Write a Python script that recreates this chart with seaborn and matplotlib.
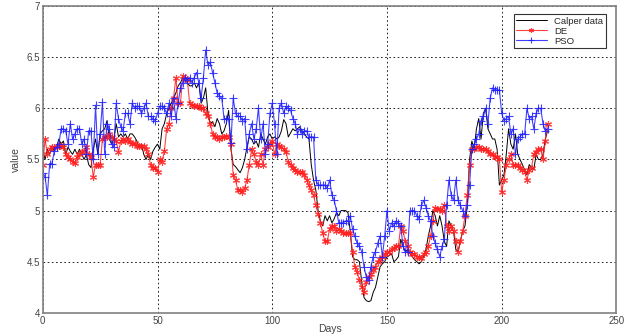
import numpy as np, pandas as pd
import seaborn as sns, matplotlib.pyplot as plt
from matplotlib.ticker import FuncFormatter

days = list(range(221))

calper = [
    5.60, 5.50, 5.60, 5.55, 5.62, 5.58, 5.62, 5.70, 5.65, 5.68,
    5.55, 5.62, 5.58, 5.55, 5.60, 5.55, 5.60, 5.55, 5.50, 5.55,
    5.45, 5.42, 5.60, 5.70, 5.55, 5.75, 5.78, 5.80, 5.88, 5.70,
    5.65, 5.70, 5.85, 5.72, 5.75, 5.72, 5.75, 5.70, 5.75, 5.75,
    5.72, 5.68, 5.62, 5.65, 5.55, 5.50, 5.55, 5.50, 5.58, 5.62,
    5.65, 5.60, 5.80, 5.85, 5.95, 6.00, 6.05, 6.10, 6.15, 6.22,
    6.25, 6.30, 6.28, 6.25, 6.22, 6.22, 6.25, 6.20, 6.25, 6.05,
    6.10, 6.20, 5.95, 5.85, 5.87, 5.82, 5.90, 5.85, 5.75, 5.78,
    5.85, 5.98, 5.60, 5.45, 5.43, 5.40, 5.37, 5.42, 5.50, 5.62,
    5.72, 5.70, 5.65, 5.68, 5.62, 5.75, 5.70, 5.65, 5.72, 5.75,
    5.70, 5.72, 5.70, 5.72, 5.78, 5.89, 5.85, 5.72, 5.76, 5.80,
    5.78, 5.80, 5.82, 5.78, 5.75, 5.72, 5.70, 5.45, 5.30, 5.20,
    5.00, 4.90, 4.85, 4.95, 4.90, 4.95, 4.88, 4.92, 4.98, 4.95,
    5.00, 5.00, 5.00, 4.98, 4.80, 4.55, 4.52, 4.52, 4.50, 4.30,
    4.15, 4.12, 4.11, 4.12, 4.20, 4.25, 4.35, 4.45, 4.48, 4.50,
    4.55, 4.56, 4.58, 4.50, 4.52, 4.55, 4.72, 4.65, 4.60, 4.62,
    4.60, 4.55, 4.52, 4.50, 4.48, 4.50, 4.55, 4.62, 4.75, 4.85,
    5.00, 4.95, 4.85, 4.95, 4.85, 4.70, 4.65, 4.90, 4.85, 4.80,
    4.62, 4.60, 4.70, 4.80, 4.85, 5.05, 5.50, 5.68, 5.60, 5.80,
    5.90, 5.70, 5.95, 6.00, 5.80, 5.75, 5.70, 5.70, 5.60, 5.25,
    5.30, 5.35, 5.55, 5.80, 5.65, 5.60, 5.75, 5.55, 5.50, 5.45,
    5.40, 5.35, 5.45, 5.42, 5.40, 5.55, 5.50, 5.50, 5.55, 5.70,
    5.78,
]

de = [
    5.45, 5.70, 5.55, 5.60, 5.62, 5.62, 5.62, 5.63, 5.64, 5.62,
    5.55, 5.52, 5.50, 5.48, 5.47, 5.52, 5.55, 5.57, 5.58, 5.62,
    5.55, 5.52, 5.33, 5.45, 5.45, 5.45, 5.70, 5.72, 5.72, 5.75,
    5.72, 5.70, 5.68, 5.57, 5.68, 5.70, 5.68, 5.70, 5.67, 5.65,
    5.66, 5.63, 5.63, 5.63, 5.63, 5.60, 5.55, 5.45, 5.42, 5.42,
    5.38, 5.50, 5.48, 5.58, 5.80, 5.85, 6.00, 6.10, 6.30, 6.05,
    6.05, 6.32, 6.30, 6.28, 6.05, 6.03, 6.02, 6.02, 6.02, 6.00,
    6.00, 5.95, 5.92, 5.85, 5.75, 5.72, 5.72, 5.70, 5.72, 5.72,
    5.73, 5.72, 5.65, 5.35, 5.30, 5.20, 5.20, 5.18, 5.22, 5.30,
    5.45, 5.60, 5.55, 5.48, 5.45, 5.55, 5.45, 5.60, 5.62, 5.65,
    5.68, 5.55, 5.65, 5.63, 5.62, 5.60, 5.57, 5.48, 5.45, 5.42,
    5.40, 5.38, 5.38, 5.38, 5.35, 5.30, 5.25, 5.20, 5.15, 5.05,
    4.97, 4.88, 4.78, 4.70, 4.70, 4.82, 4.85, 4.85, 4.80, 4.82,
    4.80, 4.78, 4.78, 4.78, 4.78, 4.60, 4.45, 4.40, 4.32, 4.25,
    4.20, 4.30, 4.35, 4.38, 4.42, 4.45, 4.50, 4.53, 4.55, 4.58,
    4.60, 4.60, 4.62, 4.63, 4.65, 4.65, 4.85, 4.80, 4.70, 4.65,
    4.60, 4.58, 4.58, 4.55, 4.55, 4.54, 4.58, 4.60, 4.65, 4.75,
    4.90, 5.03, 5.02, 5.02, 5.00, 5.05, 4.85, 4.80, 4.85, 4.80,
    4.70, 4.60, 4.70, 4.80, 4.95, 5.15, 5.45, 5.60, 5.60, 5.62,
    5.62, 5.60, 5.60, 5.60, 5.58, 5.55, 5.55, 5.52, 5.52, 5.50,
    5.18, 5.30, 5.45, 5.50, 5.55, 5.45, 5.45, 5.45, 5.42, 5.40,
    5.38, 5.30, 5.40, 5.42, 5.55, 5.57, 5.60, 5.60, 5.50, 5.68,
    5.85,
]

pso = [
    5.37, 5.33, 5.15, 5.46, 5.46, 5.58, 5.62, 5.65, 5.80, 5.80,
    5.78, 5.65, 5.85, 5.70, 5.75, 5.80, 5.80, 5.65, 5.70, 5.55,
    5.78, 5.78, 5.50, 6.03, 5.55, 5.75, 6.06, 5.55, 5.85, 5.80,
    5.65, 5.62, 6.05, 5.90, 5.82, 5.78, 5.95, 5.95, 5.85, 6.05,
    6.00, 6.02, 6.02, 5.95, 6.00, 6.05, 5.92, 5.92, 5.90, 5.88,
    5.95, 6.02, 6.02, 6.00, 5.95, 6.05, 5.92, 6.10, 5.90, 6.05,
    6.20, 6.25, 6.30, 6.28, 6.30, 6.25, 6.30, 6.35, 6.25, 6.10,
    6.30, 6.57, 6.42, 6.45, 6.35, 6.25, 6.15, 6.12, 6.10, 5.90,
    5.90, 5.90, 5.66, 6.10, 5.95, 5.92, 5.92, 5.88, 5.90, 5.60,
    5.75, 5.85, 5.70, 5.80, 6.00, 5.70, 5.85, 5.55, 5.65, 5.95,
    6.05, 5.85, 5.55, 6.00, 6.05, 5.95, 6.02, 6.00, 5.98, 5.90,
    5.85, 5.75, 5.80, 5.75, 5.78, 5.78, 5.72, 5.72, 5.72, 5.30,
    5.25, 5.25, 5.25, 5.25, 5.22, 5.30, 5.15, 5.10, 5.00, 4.88,
    4.88, 4.88, 4.90, 4.90, 4.95, 4.82, 4.75, 4.68, 4.65, 4.60,
    4.45, 4.35, 4.32, 4.45, 4.55, 4.60, 4.68, 4.75, 4.55, 4.75,
    5.00, 4.80, 4.88, 4.85, 4.90, 4.88, 4.85, 4.65, 4.60, 4.60,
    5.00, 5.00, 5.00, 4.95, 4.92, 5.05, 5.10, 5.03, 4.95, 4.90,
    4.75, 4.68, 4.62, 4.55, 4.65, 4.72, 5.05, 5.30, 5.15, 5.10,
    5.30, 5.10, 5.05, 5.00, 4.95, 5.05, 5.25, 5.60, 5.65, 5.70,
    5.75, 5.88, 5.92, 6.00, 5.85, 6.10, 6.20, 6.18, 6.18, 6.18,
    5.95, 5.88, 5.90, 5.92, 5.75, 5.80, 5.55, 5.70, 5.72, 5.75,
    5.75, 6.00, 5.90, 5.92, 5.80, 5.95, 6.00, 6.00, 5.85, 5.78,
    5.80,
]

sns.set_style("white")
plt.rcParams["font.family"] = ["Liberation Sans", "DejaVu Sans"]

fig = plt.figure(figsize=(6.29, 3.35), dpi=100)
ax = fig.add_axes([0.068, 0.066, 0.912, 0.916])

red = "#ff2020"
blue = "#2020ff"
sns.lineplot(x=days, y=calper, color="black", linewidth=0.7,
             label="Calper data", ax=ax)
sns.lineplot(x=days, y=de, color=red, linewidth=0.8, marker=(6, 2, 0),
             markersize=5, markeredgewidth=0.8, markeredgecolor=red,
             alpha=0.85, label="DE", ax=ax)
sns.lineplot(x=days, y=pso, color=blue, linewidth=0.8, marker="+",
             markersize=6, markeredgewidth=0.8, markeredgecolor=blue,
             alpha=0.85, label="PSO", ax=ax)

ax.set_xlim(0, 250)
ax.set_ylim(4, 7)
ax.set_xticks(np.arange(0, 251, 50))
ax.set_yticks(np.arange(4, 7.01, 0.5))
fmt = FuncFormatter(lambda v, p: "%g" % v)
ax.xaxis.set_major_formatter(fmt)
ax.yaxis.set_major_formatter(fmt)
ax.tick_params(direction="in", length=3, labelsize=7, colors="#444444", pad=2)
ax.grid(True, color="black", linestyle=(0, (2, 3)), linewidth=0.6)
for s in ax.spines.values():
    s.set_color("#808080")
    s.set_linewidth(1.2)
ax.set_xlabel("Days", fontsize=7.5, color="#444444", labelpad=-1)
ax.set_ylabel("value", fontsize=7.5, color="#444444", labelpad=4)

leg = ax.legend(loc="upper right", fontsize=6.8, frameon=True, fancybox=False,
                borderpad=0.3, handlelength=3.2, labelspacing=0.1,
                markerscale=0.7, bbox_to_anchor=(0.99, 0.99))
leg.get_frame().set_edgecolor("black")
leg.get_frame().set_linewidth(0.8)

fig.savefig("out.png", dpi=100)
